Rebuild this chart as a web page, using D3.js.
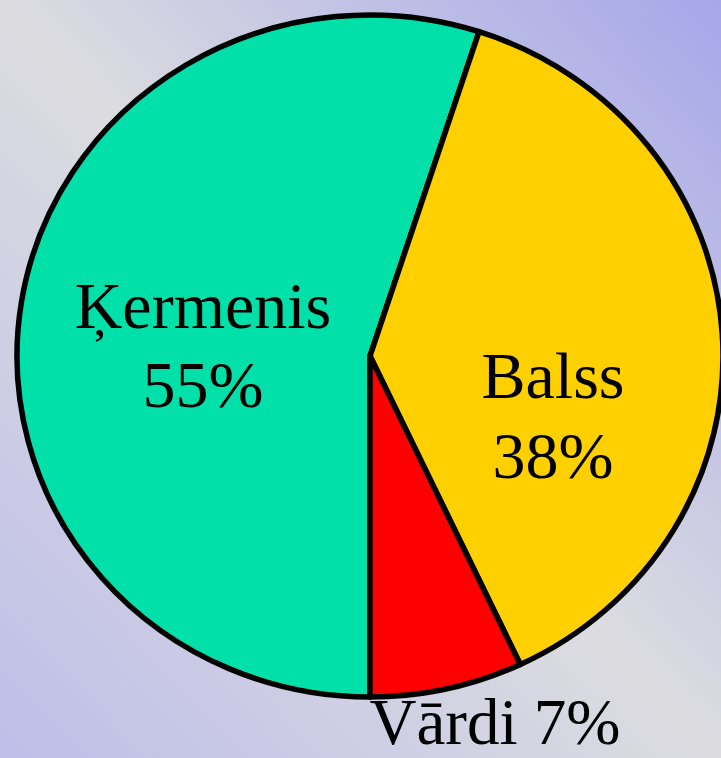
<!DOCTYPE html>
<html>
<head>
<meta charset="utf-8">
<script src="https://cdn.jsdelivr.net/npm/d3@7"></script>
<style>
  html, body { margin: 0; padding: 0; overflow: hidden; }
  svg { display: block; }
</style>
</head>
<body>
<svg id="chart" width="721" height="758"></svg>
<script>
// ---- data ----
const categories = ["Ķermenis", "Balss", "Vārdi"];
const values = [55, 38, 7];
const percentLabels = ["55%", "38%", "7%"];
const colors = ["#00e0a8", "#ffd000", "#ff0000"];

// ---- layout ----
const W = 721, H = 758;
const cx = 370, cy = 356, rx = 353, ry = 341;
const svg = d3.select("#chart");

const defs = svg.append("defs");
const grad = defs.append("linearGradient")
  .attr("id", "bg").attr("x1", "1").attr("y1", "0").attr("x2", "0").attr("y2", "1");
grad.append("stop").attr("offset", "0").attr("stop-color", "#a6a6ea");
grad.append("stop").attr("offset", "0.5").attr("stop-color", "#dcdce0");
grad.append("stop").attr("offset", "1").attr("stop-color", "#bebee9");
svg.append("rect").attr("width", W).attr("height", H).attr("fill", "url(#bg)");

const pie = d3.pie().sort(null).value(d => d).startAngle(Math.PI).endAngle(3 * Math.PI);
const arcs = pie(values);
const arc = d3.arc().innerRadius(0).outerRadius(rx);

const g = svg.append("g").attr("transform", `translate(${cx},${cy}) scale(1,${ry / rx})`);
g.selectAll("path").data(arcs).join("path")
  .attr("d", arc)
  .attr("fill", (d, i) => colors[i])
  .attr("stroke", "#000")
  .attr("stroke-width", 5.5)
  .attr("stroke-linejoin", "round")
  .attr("vector-effect", "non-scaling-stroke");

// labels
const labelLayout = [
  { x: 203, lines: [328, 407], sep: true, size: 66 },
  { x: 553, lines: [398, 478], sep: true, size: 66 },
  { x: 495, lines: [744], sep: false, size: 65 }
];
const tg = svg.append("g")
  .attr("font-family", "'Liberation Serif', 'Times New Roman', serif")
  .attr("fill", "#000")
  .attr("text-anchor", "middle");
categories.forEach((c, i) => {
  const L = labelLayout[i];
  if (L.sep) {
    tg.append("text").attr("x", L.x).attr("y", L.lines[0]).attr("font-size", L.size).text(c);
    tg.append("text").attr("x", L.x).attr("y", L.lines[1]).attr("font-size", L.size).text(percentLabels[i]);
  } else {
    tg.append("text").attr("x", L.x).attr("y", L.lines[0]).attr("font-size", L.size).text(c + " " + percentLabels[i]);
  }
});
</script>
</body>
</html>
